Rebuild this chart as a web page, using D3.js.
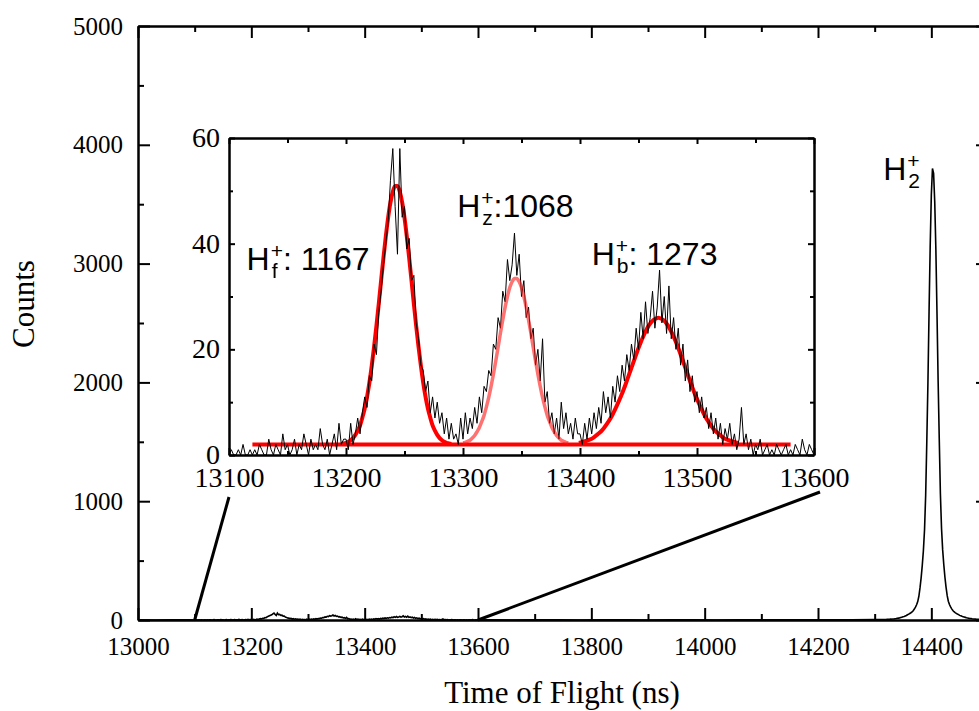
<!DOCTYPE html>
<html><head><meta charset="utf-8">
<script src="https://cdn.jsdelivr.net/npm/d3@7"></script>
<style>body{margin:0;background:#fff} svg{display:block}</style>
</head><body><svg id="c" width="979" height="711"></svg>
<script>
// ---------- DATA ----------
// Inset histogram: time of flight bins (ns) from 13100 to 13600, 2 ns step
const insetStart = 13100, insetStep = 2;
const insetCounts = [
 0,1,0,0,1,0,2,0,0,1, 0,1,0,2,1,0,0,3,1,0, 2,1,0,4,1,2,0,1,3,0, 2,1,4,2,0,3,1,2,1,5, 2,1,3,0,2,4,1,6,2,3,
 3,1,6,2,4,7,4,8,11,9, 15,14,21,19,27,31,36,40,44,52, 58,47,38,58,45,47,39,41,33,34, 25,22,17,16,12,14,8,11,7,10, 6,8,4,7,3,6,3,4,2,7,
 3,8,4,7,5,9,6,11,8,13, 12,16,15,21,20,26,24,31,29,37, 33,36,42,34,38,30,33,26,28,22, 24,17,20,14,22,10,12,6,8,4, 7,3,10,5,8,4,6,3,7,4,
 4,2,6,3,7,4,8,5,9,6, 12,8,11,7,13,10,15,12,17,14, 19,16,21,18,24,20,27,22,29,23, 26,31,24,28,35,25,30,23,32,22, 26,20,24,17,21,14,18,12,15,10,
 12,8,11,7,9,5,8,4,7,3, 6,2,5,3,6,2,4,1,3,9, 2,4,1,3,0,2,1,3,0,1, 2,0,1,0,2,1,0,1,2,0, 1,0,2,1,0,3,1,0,2,1, 0
];
// Gaussian fit curves (counts)
const fit1Start = 13196, fit1Step = 2;
const fit1Counts = [2.1,2.2,2.3,2.5,2.8,3.2,3.8,4.6,5.6,7.1,8.8,11,13.7,16.9,20.5,24.4,28.6,33,37.3,41.3,44.9,47.8,49.8,50.9,
 50.9,49.8,47.8,44.9,41.3,37.3,33,28.6,24.4,20.5,16.9,13.7,11,8.8,7.1,5.6,4.6,3.8,3.2,2.8,2.5,2.3,2.2,2.1];
const fit2Start = 13300, fit2Step = 2;
const fit2Counts = [2.3,2.4,2.6,2.8,3.2,3.7,4.4,5.2,6.3,7.5,9.1,10.9,13,15.3,17.8,20.4,23.1,25.6,28,30,31.7,32.8,33.4,
 33.4,32.8,31.7,30,28,25.6,23.1,20.4,17.8,15.3,13,10.9,9.1,7.5,6.3,5.2,4.4,3.7,3.2,2.8,2.6,2.4,2.3];
const fit3Start = 13399, fit3Step = 4;
const fit3Counts = [2.3,2.5,2.8,3.2,3.9,4.7,5.9,7.3,9.1,11.1,13.4,15.9,18.4,20.8,22.9,24.6,25.6,26,
 25.6,24.6,22.9,20.8,18.4,15.9,13.4,11.1,9.1,7.3,5.9,4.7,3.9,3.2,2.8,2.5,2.3];
const fitBaseTof = [13120, 13580];
const fitBaseCounts = [2, 2];

// Main spectrum: H2+ peak, 2 ns step
const h2Start = 14320, h2Step = 2;
const h2Counts = [4,5,5,6,7,7,9,9,11,12,14,16,18,21,24,27,30,34,38,44,49,55,61,68,78,92,108,128,155,200,270,355,460,585,760,1050,1500,2000,2600,3150,3580,3800,
 3760,3520,3120,2580,2010,1520,1060,770,590,465,360,275,205,158,130,110,94,80,70,62,56,50,45,39,35,31,28,25,22,19,17,15,13,12,10,9,8,7,6,6,5,5,4,4];
// Main spectrum background outside the peaks
const bgTof =    [13000,13030,13060,13090,13620,13660,13700,13740,13780,13820,13860,13900,13940,13980,14020,14060,14100,14140,14180,14220,14260,14300,14310,14500];
const bgCounts = [1,0,2,1,1,0,2,1,0,1,2,0,1,1,0,2,1,1,2,1,2,3,3,3];

// Ticks
const mainXMajor = [13000,13200,13400,13600,13800,14000,14200,14400];
const mainXMinor = [13100,13300,13500,13700,13900,14100,14300,14500];
const mainYMajor = [0,1000,2000,3000,4000,5000];
const mainYMinor = [500,1500,2500,3500,4500];
const insetXMajor = [13100,13200,13300,13400,13500,13600];
const insetXMinor = [13150,13250,13350,13450,13550];
const insetYMajor = [0,20,40,60];
const insetYMinor = [10,30,50];

// Labels
const xTitle = "Time of Flight (ns)";
const yTitle = "Counts";
const ionLabels = [
  {tof:13115, c:35, sub:"f", rest:": 1167"},
  {tof:13295, c:45, sub:"z", rest:":1068"},
  {tof:13410, c:36, sub:"b", rest:": 1273"}
];
const h2Label = {tof:14315, c:3704, sub:"2", rest:""};

// ---------- DRAW ----------
const svg = d3.select("#c");
svg.append("rect").attr("width",979).attr("height",711).attr("fill","#fff");
const SERIF = "Liberation Serif";
const SANS = "Liberation Sans";

const M = {l:138, r:988, t:26, b:620};
const x = d3.scaleLinear().domain([13000,14500]).range([M.l, M.r]);
const y = d3.scaleLinear().domain([0,5000]).range([M.b, M.t]);

function styleAxis(g, fs, fam, labels){
  g.attr("font-family",fam).attr("font-size",fs);
  g.select(".domain").attr("stroke","#000").attr("stroke-width",2);
  g.selectAll(".tick line").attr("stroke","#000").attr("stroke-width",2);
  if (labels) g.selectAll(".tick text").style("font-family",fam).style("font-size",fs+"px").attr("fill","#000");
  else g.selectAll(".tick text").remove();
}
function axisPair(axisFn, scale, major, minor, pos, horiz, tMaj, tMin, labels, fs, pad){
  const tr = horiz ? `translate(0,${pos})` : `translate(${pos},0)`;
  const a = svg.append("g").attr("transform",tr)
    .call(axisFn(scale).tickValues(major).tickFormat(labels ? d3.format("d") : "").tickSizeInner(-tMaj).tickSizeOuter(0).tickPadding(pad||3));
  styleAxis(a, fs, SERIF, labels);
  const b = svg.append("g").attr("transform",tr)
    .call(axisFn(scale).tickValues(minor).tickFormat("").tickSizeInner(-tMin).tickSizeOuter(0));
  styleAxis(b, fs, SERIF, false);
  return a;
}

// main axes
axisPair(d3.axisBottom, x, mainXMajor, mainXMinor, M.b, true, 12, 6, true, 25, 17);
axisPair(d3.axisTop, x, mainXMajor, mainXMinor, M.t, true, 12, 6, false, 25);
const gy = axisPair(d3.axisLeft, y, mainYMajor, mainYMinor, M.l, false, 12, 6, true, 25, 15);
gy.selectAll(".tick text").attr("dy","0.32em");
axisPair(d3.axisRight, y, mainYMajor, mainYMinor, M.r, false, 12, 6, false, 25);

// main spectrum
const insetTof = insetCounts.map((_,i)=>insetStart+i*insetStep);
const h2Tof = h2Counts.map((_,i)=>h2Start+i*h2Step);
const mainPts = [];
bgTof.forEach((t,i)=>mainPts.push([t,bgCounts[i]]));
insetTof.forEach((t,i)=>mainPts.push([t,insetCounts[i]]));
h2Tof.forEach((t,i)=>mainPts.push([t,h2Counts[i]]));
mainPts.sort((a,b)=>a[0]-b[0]);
svg.append("clipPath").attr("id","mclip").append("rect")
  .attr("x",M.l).attr("y",M.t).attr("width",M.r-M.l).attr("height",M.b-M.t);
svg.append("path").datum(mainPts).attr("clip-path","url(#mclip)")
  .attr("fill","none").attr("stroke","#000").attr("stroke-width",1.6)
  .attr("d", d3.line().x(d=>x(d[0])).y(d=>y(d[1])));

// axis titles
svg.append("text").attr("x",562).attr("y",703).attr("text-anchor","middle")
  .style("font-family",SERIF).style("font-size","31px").text(xTitle);
svg.append("text").attr("transform","translate(34,304) rotate(-90)").attr("text-anchor","middle")
  .style("font-family",SERIF).style("font-size","31px").text(yTitle);

// ---------- INSET ----------
const I = {l:229, r:814, t:138, b:455};
const xi = d3.scaleLinear().domain([13100,13600]).range([I.l, I.r]);
const yi = d3.scaleLinear().domain([0,60]).range([I.b, I.t]);

// connector lines (from main axis to inset)
svg.append("line").attr("x1",x(13100)).attr("y1",y(0)).attr("x2",xi(13100)).attr("y2",I.b+42)
  .attr("stroke","#000").attr("stroke-width",3);
svg.append("line").attr("x1",x(13600)).attr("y1",y(0)).attr("x2",xi(13600)+6).attr("y2",I.b+37)
  .attr("stroke","#000").attr("stroke-width",3);

svg.append("rect").attr("x",I.l).attr("y",I.t).attr("width",I.r-I.l).attr("height",I.b-I.t)
  .attr("fill","#fff");

svg.append("clipPath").attr("id","iclip").append("rect")
  .attr("x",I.l).attr("y",I.t).attr("width",I.r-I.l).attr("height",I.b-I.t);

const lfit = d3.line().x(d=>xi(d[0])).y(d=>yi(d[1])).curve(d3.curveMonotoneX);
svg.append("path").datum(fitBaseTof.map((t,i)=>[t,fitBaseCounts[i]]))
  .attr("fill","none").attr("stroke","#ff0000").attr("stroke-width",4).attr("d",lfit);
svg.append("path").datum(fit1Counts.map((c,i)=>[fit1Start+i*fit1Step,c]))
  .attr("fill","none").attr("stroke","#ff0000").attr("stroke-width",4).attr("d",lfit);
svg.append("path").datum(fit3Counts.map((c,i)=>[fit3Start+i*fit3Step,c]))
  .attr("fill","none").attr("stroke","#ff0000").attr("stroke-width",4).attr("d",lfit);

const li = d3.line().x(d=>xi(d[0])).y(d=>yi(d[1]));
svg.append("path").datum(insetTof.map((t,i)=>[t,insetCounts[i]])).attr("clip-path","url(#iclip)")
  .attr("fill","none").attr("stroke","#000").attr("stroke-width",1).attr("d", li);

svg.append("path").datum(fit2Counts.map((c,i)=>[fit2Start+i*fit2Step,c]))
  .attr("fill","none").attr("stroke","rgba(255,20,20,0.6)").attr("stroke-width",3.5).attr("d",lfit);

axisPair(d3.axisBottom, xi, insetXMajor, insetXMinor, I.b, true, 7, 4, true, 28, 12);
axisPair(d3.axisTop, xi, insetXMajor, insetXMinor, I.t, true, 6, 5, false, 28);
const giy = axisPair(d3.axisLeft, yi, insetYMajor, insetYMinor, I.l, false, 6, 4, true, 28, 9);
giy.selectAll(".tick text").attr("dy","0.30em");
axisPair(d3.axisRight, yi, insetYMajor, insetYMinor, I.r, false, 6, 4, false, 28);

// ion labels (one text element each, stacked super/subscript via tspans)
function measure(str, fs){
  const t = svg.append("text").style("font-family",SANS).style("font-size",fs+"px").text(str);
  const w = t.node().getComputedTextLength(); t.remove(); return w;
}
function ionLabel(px, py, sub, rest){
  const w = measure("H",32);
  const w2 = Math.max(measure("+",21), measure(sub,21)+1);
  const t = svg.append("text").attr("x",px).attr("y",py).attr("fill","#000")
    .style("font-family",SANS).style("font-size","32px");
  t.append("tspan").text("H");
  t.append("tspan").attr("x",px+w+1).attr("dy",-12).style("font-size","21px").text("+");
  t.append("tspan").attr("x",px+w+2).attr("dy",20).style("font-size","21px").text(sub);
  if (rest) t.append("tspan").attr("x",px+w+1+w2).attr("dy",-8).text(rest);
}
ionLabels.forEach(d=>ionLabel(xi(d.tof), yi(d.c), d.sub, d.rest));
ionLabel(x(h2Label.tof), y(h2Label.c), h2Label.sub, h2Label.rest);
</script></body></html>
